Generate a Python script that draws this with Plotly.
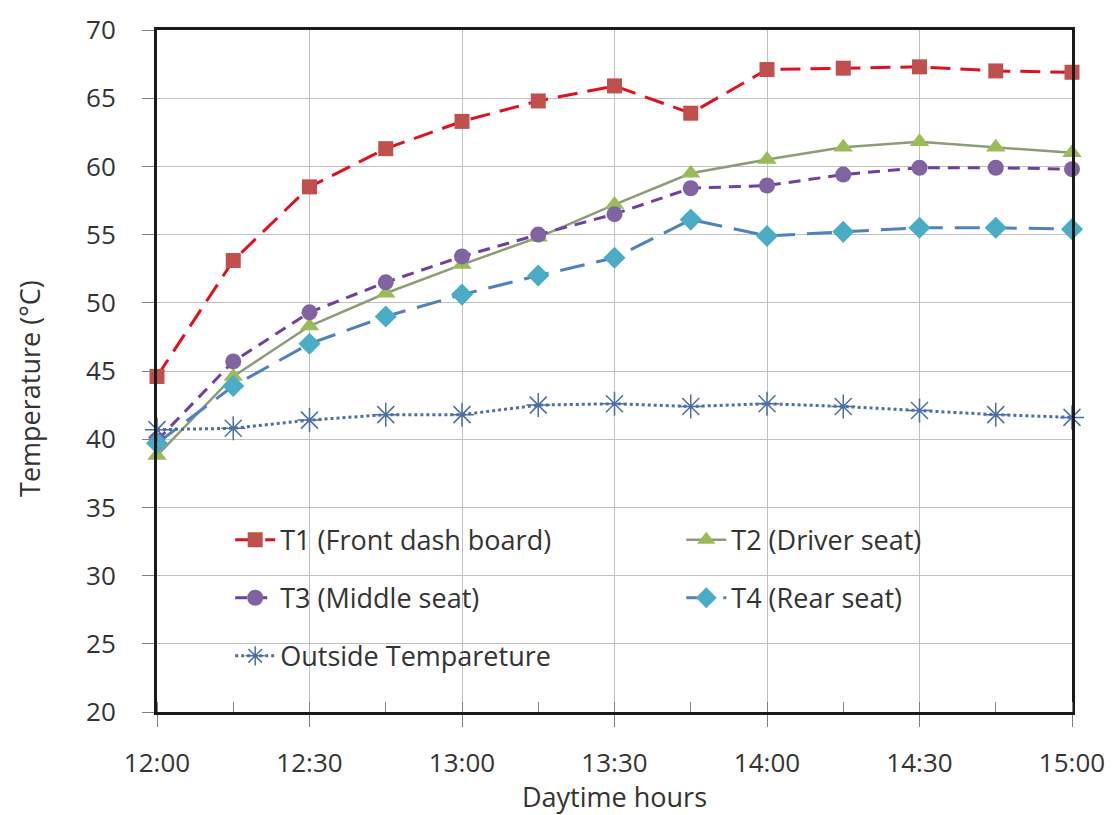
import plotly.graph_objects as go

times = ["12:00", "12:15", "12:30", "12:45", "13:00", "13:15", "13:30",
         "13:45", "14:00", "14:15", "14:30", "14:45", "15:00"]
t1 = [44.6, 53.1, 58.5, 61.3, 63.3, 64.8, 65.9, 63.9, 67.1, 67.2, 67.3, 67.0, 66.9]
t2 = [38.8, 44.6, 48.3, 50.7, 52.8, 54.8, 57.2, 59.5, 60.5, 61.4, 61.8, 61.4, 61.0]
t3 = [39.9, 45.7, 49.3, 51.5, 53.4, 55.0, 56.5, 58.4, 58.6, 59.4, 59.9, 59.9, 59.8]
t4 = [39.7, 43.9, 47.0, 49.0, 50.6, 52.0, 53.3, 56.1, 54.9, 55.2, 55.5, 55.5, 55.4]
outside = [40.7, 40.8, 41.4, 41.8, 41.8, 42.5, 42.6, 42.4, 42.6, 42.4, 42.1, 41.8, 41.6]

names = ["T1 (Front dash board)", "T2 (Driver seat)", "T3 (Middle seat)",
         "T4 (Rear seat)", "Outside Tempareture"]
x_title = "Daytime hours"
y_title = "Temperature (°C)"

x = ["2024-01-01 " + t + ":00" for t in times]

FONT = "Open Sans, Liberation Sans, sans-serif"
TXT = "#333333"

fig = go.Figure()

fig.add_trace(go.Scatter(
    x=x, y=t1, name=names[0], mode="lines+markers", legend="legend",
    legendgroup="a",
    line=dict(color="#E0101E", width=3, dash="20px,10px"),
    marker=dict(symbol="square", size=15, color="#C0504D"),
    cliponaxis=False))
fig.add_trace(go.Scatter(
    x=x, y=t2, name=names[1], mode="lines+markers", legend="legend2",
    legendgroup="b",
    line=dict(color="#8C9C78", width=2.5),
    marker=dict(symbol="triangle-up", size=17, color="#9BBB59"),
    cliponaxis=False))
fig.add_trace(go.Scatter(
    x=x, y=t3, name=names[2], mode="lines+markers", legend="legend",
    legendgroup="c",
    line=dict(color="#7040A0", width=3, dash="12px,8px"),
    marker=dict(symbol="circle", size=16, color="#8064A2"),
    cliponaxis=False))
fig.add_trace(go.Scatter(
    x=x, y=t4, name=names[3], mode="lines+markers", legend="legend2",
    legendgroup="d",
    line=dict(color="#4F81BD", width=3, dash="25px,12px"),
    marker=dict(symbol="diamond", size=17, color="#4BACC6"),
    cliponaxis=False))
fig.add_trace(go.Scatter(
    x=x, y=outside, name=names[4], mode="lines+markers", legend="legend",
    legendgroup="e",
    line=dict(color="#4A6FA5", width=3, dash="3px,3px"),
    marker=dict(symbol="asterisk-open", size=20,
                line=dict(color="#6A9BD8", width=1.5)),
    cliponaxis=False))

leg_common = dict(
    bgcolor="rgba(0,0,0,0)", borderwidth=0, orientation="v",
    xanchor="left", yanchor="top", tracegroupgap=20,
    font=dict(family=FONT, size=27, color=TXT), itemwidth=40)

fig.update_layout(
    width=1105, height=807,
    margin=dict(l=149, r=41, t=22, b=103, autoexpand=False),
    paper_bgcolor="white", plot_bgcolor="white",
    font=dict(family=FONT, size=26, color=TXT),
    showlegend=True,
    legend=dict(x=0.080, y=0.288, **leg_common),
    legend2=dict(x=0.573, y=0.288, **leg_common),
    xaxis=dict(
        type="date", automargin=False,
        range=["2024-01-01 12:00:00", "2024-01-01 15:00:00"],
        tickformat="%H:%M", dtick=30 * 60 * 1000,
        tick0="2024-01-01 12:00:00",
        showgrid=True, gridcolor="#C0C0C0", gridwidth=1,
        showline=True, linecolor="#1a1a1a", linewidth=3, mirror=True,
        ticks="outside", ticklen=12, tickcolor="#808080", tickwidth=1,
        ticklabelstandoff=14,
        minor=dict(dtick=15 * 60 * 1000, ticks="inside", ticklen=10,
                   tickcolor="#808080", showgrid=False),
        tickfont=dict(family=FONT, size=26, color=TXT),
        title=dict(text=x_title, standoff=4,
                   font=dict(family=FONT, size=27, color=TXT)),
        zeroline=False,
    ),
    yaxis=dict(
        range=[20, 70], dtick=5, automargin=False,
        showgrid=True, gridcolor="#C0C0C0", gridwidth=1,
        showline=True, linecolor="#1a1a1a", linewidth=3, mirror=True,
        ticks="outside", ticklen=12, tickcolor="#808080", tickwidth=1,
        ticklabelstandoff=21,
        tickfont=dict(family=FONT, size=26, color=TXT),
        zeroline=False,
    ),
    annotations=[dict(
        text=y_title, textangle=-90, showarrow=False,
        xref="paper", yref="paper", x=-0.140, y=0.475,
        xanchor="center", yanchor="middle",
        font=dict(family=FONT, size=27, color=TXT))],
)

fig.write_html("out.html")
